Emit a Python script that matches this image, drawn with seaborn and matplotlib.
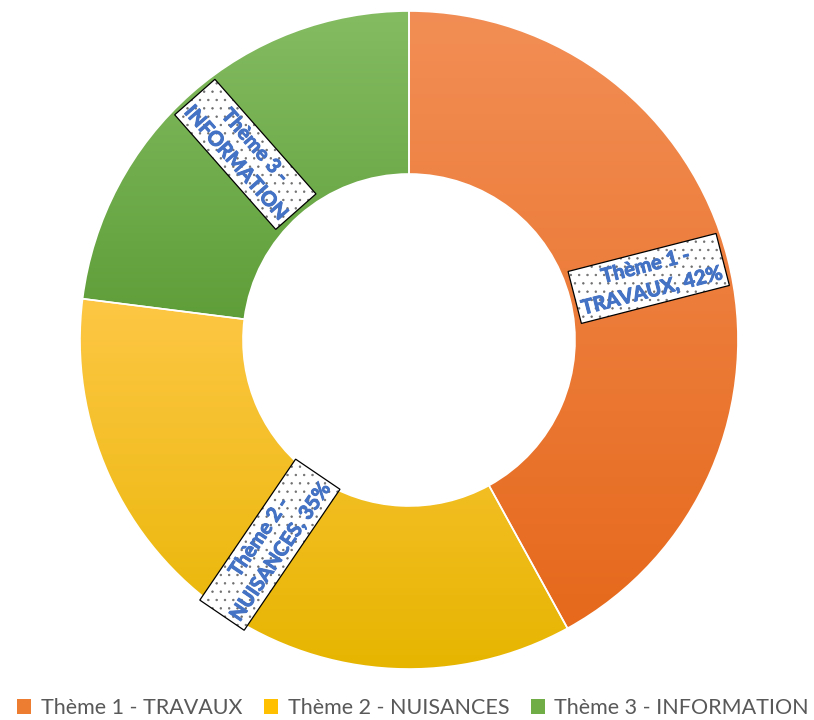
import numpy as np
import matplotlib
matplotlib.use("Agg")
import matplotlib.pyplot as plt
import matplotlib.patheffects as pe
import seaborn as sns
from matplotlib.patches import Patch
from matplotlib.colors import LinearSegmentedColormap, to_rgba

sns.set_theme(style="white")
plt.rcParams['font.family'] = ['Lato', 'DejaVu Sans']
plt.rcParams['hatch.linewidth'] = 0.5

categories = ["Thème 1 - TRAVAUX", "Thème 2 - NUISANCES", "Thème 3 - INFORMATION"]
values = [42, 35, 23]
label_texts = ["Thème 1 -\nTRAVAUX, 42%", "Thème 2 -\nNUISANCES, 35%", "Thème 3 -\nINFORMATION"]
base_colors = ["#ED7D31", "#FFC000", "#70AD47"]
top_colors = ["#F28E55", "#FEC745", "#84BC62"]
bottom_colors = ["#E6691C", "#E6B500", "#5C9C36"]

fig = plt.figure(figsize=(8.14, 7.2), dpi=100)
ax = fig.add_axes([80/814, 51/720, 658/814, 658/720])
ax.set_xlim(-1, 1)
ax.set_ylim(-1, 1)
ax.set_aspect('equal')
ax.axis('off')

inner = 166/329
width = 1 - inner
wedges, _ = ax.pie(values, startangle=90, counterclock=False, colors=base_colors,
                   radius=1, wedgeprops=dict(width=width, edgecolor='white', linewidth=1.2))

for w, tc, bc in zip(wedges, top_colors, bottom_colors):
    verts = w.get_patch_transform().transform(w.get_path().vertices)
    x0, y0 = verts.min(axis=0)
    x1, y1 = verts.max(axis=0)
    cmap = LinearSegmentedColormap.from_list("g", [bc, tc])
    grad = np.linspace(0, 1, 256).reshape(-1, 1)
    im = ax.imshow(grad, cmap=cmap, origin='lower', extent=[x0, x1, y0, y1],
                   aspect='auto', zorder=1, interpolation='bilinear')
    im.set_clip_path(w)
    w.set_facecolor('none')
    w.set_zorder(3)

ax.set_xlim(-1, 1)
ax.set_ylim(-1, 1)

total = sum(values)
start = 90.0
rmid = (1 + inner) / 2
for v, txt in zip(values, label_texts):
    span = 360.0 * v / total
    mid = start - span / 2
    start -= span
    a = np.deg2rad(mid)
    rot = mid % 360
    if rot > 90 and rot <= 270:
        rot -= 180
    if rot > 270:
        rot -= 360
    t = ax.text(rmid*np.cos(a), rmid*np.sin(a), txt, rotation=rot, rotation_mode='anchor',
                ha='center', va='center', multialignment='center', fontsize=14.5,
                fontweight='bold', color='#4472C4', zorder=5, linespacing=1.35,
                bbox=dict(boxstyle='square,pad=0.2', facecolor='white', edgecolor='black',
                          linewidth=0.9, hatch='..'),
                path_effects=[pe.withStroke(linewidth=0.7, foreground='#4472C4')])
    bp = t.get_bbox_patch()
    if bp is not None:
        bp._hatch_color = to_rgba('#6E6E6E')

handles = [Patch(facecolor=c, edgecolor='none') for c in base_colors]
fig.legend(handles, categories, loc='center', bbox_to_anchor=(0.5 + 6/814, 1 - 708/720), ncol=3,
           frameon=False, fontsize=15.5, labelcolor='#595959', handlelength=0.65,
           handleheight=0.65, handletextpad=0.45, columnspacing=1.0)

fig.savefig("out.png", dpi=100, facecolor='white')
